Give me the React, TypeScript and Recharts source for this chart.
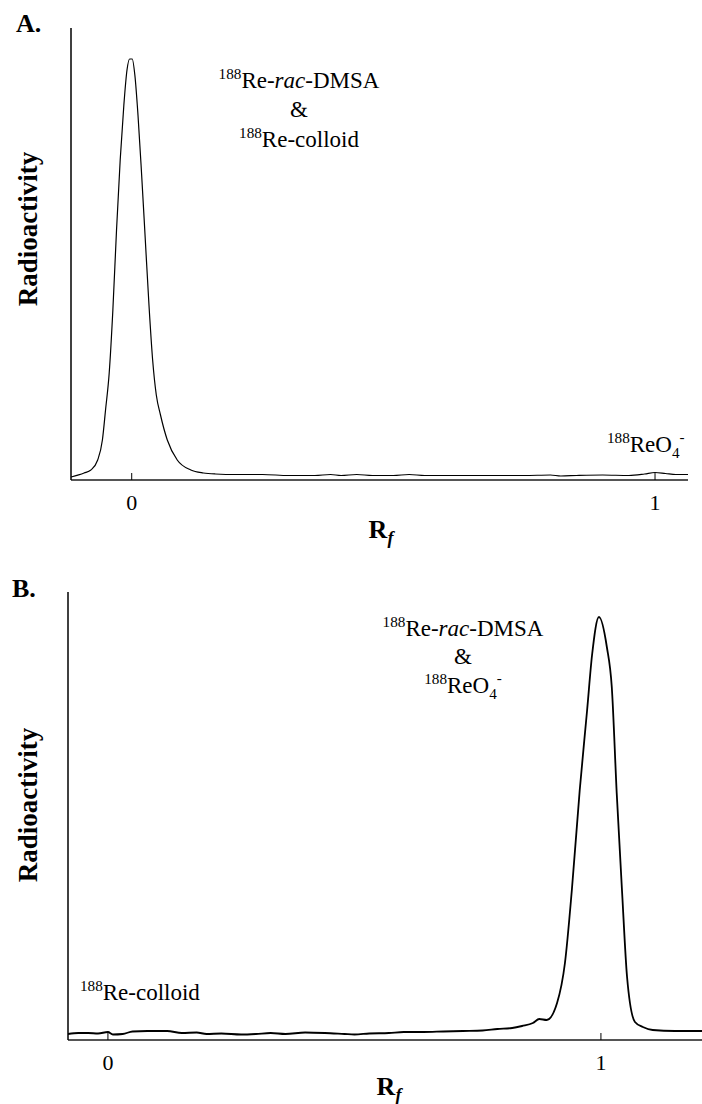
import React from 'react'
import { LineChart, Line, XAxis, YAxis } from 'recharts'

// panel A: TLC scan, peak at origin
const rfA = [
  -0.116, -0.091, -0.078, -0.065, -0.056, -0.05, -0.043, -0.036, -0.029, -0.022, -0.015, -0.009,
  -0.004, 0.001, 0.006, 0.012, 0.019, 0.026, 0.033, 0.04, 0.047, 0.055, 0.068, 0.087, 0.113,
  0.137, 0.16, 0.2, 0.25, 0.3, 0.35, 0.38, 0.4, 0.43, 0.46, 0.5, 0.53, 0.56, 0.6, 0.7, 0.75, 0.8,
  0.82, 0.85, 0.9, 0.95, 0.98, 1.0, 1.02, 1.04, 1.063,
]
const activityA = [
  3, 7, 10, 20, 40, 70, 107, 170, 250, 320, 375, 410, 421, 421, 405, 365, 305, 240, 175, 120, 85,
  65, 40, 20, 10, 7, 6, 5.5, 5.5, 4.5, 4.5, 5.5, 4.5, 5.5, 4.5, 4.5, 5.5, 4.5, 4.5, 4.5, 4.5, 5,
  4, 4.5, 5, 4.5, 6, 7.5, 6.5, 5.5, 5.5,
]

// panel B: peak at solvent front
const rfB = [
  -0.081, -0.06, -0.04, -0.02, 0.0, 0.01, 0.03, 0.05, 0.08, 0.12, 0.15, 0.18, 0.2, 0.23, 0.27,
  0.3, 0.33, 0.36, 0.4, 0.44, 0.48, 0.5, 0.53, 0.57, 0.6, 0.64, 0.68, 0.72, 0.76, 0.79, 0.82,
  0.84, 0.862, 0.875, 0.89, 0.911, 0.927, 0.941, 0.957, 0.972, 0.982, 0.996, 1.012, 1.022, 1.032,
  1.043, 1.053, 1.069, 1.085, 1.105, 1.15, 1.205,
]
const activityB = [
  6, 7, 7, 6.5, 8, 5.5, 6, 8.5, 9, 9, 7, 7.5, 6, 6.5, 5.5, 6, 7, 6, 7.5, 7, 6, 5.5, 6.5, 7, 8, 8,
  8.5, 9, 9.5, 11, 12, 14, 17, 21, 20, 37, 77, 150, 250, 330, 385, 423, 393, 353, 247, 147, 63, 18,
  13, 10, 9, 9,
]

const rfTicks = [0, 1]

const dataA = rfA.map((rf, i) => ({ rf, value: activityA[i] }))
const dataB = rfB.map((rf, i) => ({ rf, value: activityB[i] }))

const serif = '"Liberation Serif", "Times New Roman", serif'

const RfTick = (props: any) => {
  const { x, y, payload } = props
  return (
    <g>
      <line x1={x} x2={x} y1={y} y2={y - 7} stroke="#000" strokeWidth={1} />
      <text x={x} y={y + 30} textAnchor="middle" fontFamily={serif} fontSize={22} fill="#000">
        {payload.value}
      </text>
    </g>
  )
}

function Sup({ x, y, anchor = 'middle', parts, size = 23 }: any) {
  // parts: [text, style] where style = 'sup' | 'sub' | 'it' | ''
  let shift = 0
  return (
    <text x={x} y={y} textAnchor={anchor} fontFamily={serif} fontSize={size} fill="#000">
      {parts.map(([t, s]: [string, string], i: number) => {
        let target = 0
        if (s === 'sup') target = -9
        if (s === 'sub') target = 6
        if (s === 'supm') target = -10
        const dy = target - shift
        shift = target
        const small = s === 'sup' || s === 'sub' || s === 'supm'
        return (
          <tspan
            key={i}
            dy={dy}
            fontSize={small ? size * 0.66 : size}
            fontStyle={s === 'it' ? 'italic' : 'normal'}
          >
            {t}
          </tspan>
        )
      })}
    </text>
  )
}

function Panel({ data, domain, yMax, margin, width, height, strokeWidth }: any) {
  return (
    <LineChart width={width} height={height} data={data} margin={margin}>
      <XAxis
        dataKey="rf"
        type="number"
        domain={domain}
        ticks={rfTicks}
        allowDataOverflow
        height={30}
        tickSize={0}
        tickMargin={0}
        tickLine={false}
        tick={<RfTick />}
        axisLine={{ stroke: '#555', strokeWidth: 2 }}
      />
      <YAxis
        type="number"
        domain={[0, yMax]}
        width={1}
        tick={false}
        tickLine={false}
        axisLine={{ stroke: '#000', strokeWidth: 1.5 }}
      />
      <Line
        type="monotone"
        dataKey="value"
        stroke="#000"
        strokeWidth={strokeWidth}
        dot={false}
        isAnimationActive={false}
      />
    </LineChart>
  )
}

export default function App() {
  return (
    <div style={{ position: 'absolute', left: 0, top: 0, width: 702, height: 1104, background: '#fff' }}>
      <div style={{ position: 'absolute', left: 0, top: 0 }}>
        <Panel
          data={dataA}
          domain={[-0.116, 1.063]}
          yMax={452}
          width={702}
          height={560}
          margin={{ top: 28, right: 14, bottom: 50, left: 70 }}
          strokeWidth={1.2}
        />
      </div>
      <div style={{ position: 'absolute', left: 0, top: 560 }}>
        <Panel
          data={dataB}
          domain={[-0.081, 1.205]}
          yMax={448}
          width={702}
          height={544}
          margin={{ top: 32, right: 0, bottom: 34, left: 67 }}
          strokeWidth={1.8}
        />
      </div>
      <svg
        width={702}
        height={1104}
        style={{ position: 'absolute', left: 0, top: 0, pointerEvents: 'none' }}
      >
        {/* panel A labels */}
        <text x={16} y={32} fontFamily={serif} fontSize={26} fontWeight="bold">A.</text>
        <text
          transform="translate(37,229) rotate(-90)"
          textAnchor="middle"
          fontFamily={serif}
          fontSize={27}
          fontWeight="bold"
        >
          Radioactivity
        </text>
        <Sup x={299} y={88} parts={[['188', 'sup'], ['Re-', ''], ['rac', 'it'], ['-DMSA', '']]} />
        <Sup x={299} y={117} parts={[['&', '']]} />
        <Sup x={299} y={147} parts={[['188', 'sup'], ['Re-colloid', '']]} />
        <Sup
          x={607}
          y={452}
          anchor="start"
          parts={[['188', 'sup'], ['ReO', ''], ['4', 'sub'], ['-', 'supm']]}
        />
        <text x={381} y={538} textAnchor="middle" fontFamily={serif} fontSize={26} fontWeight="bold">
          R
          <tspan dy={6} fontSize={18} fontStyle="italic">f</tspan>
        </text>

        {/* panel B labels */}
        <text x={12} y={597} fontFamily={serif} fontSize={26} fontWeight="bold">B.</text>
        <text
          transform="translate(37,805) rotate(-90)"
          textAnchor="middle"
          fontFamily={serif}
          fontSize={27}
          fontWeight="bold"
        >
          Radioactivity
        </text>
        <Sup x={463} y={636} parts={[['188', 'sup'], ['Re-', ''], ['rac', 'it'], ['-DMSA', '']]} />
        <Sup x={463} y={664} parts={[['&', '']]} />
        <Sup
          x={463}
          y={693}
          parts={[['188', 'sup'], ['ReO', ''], ['4', 'sub'], ['-', 'supm']]}
        />
        <Sup x={80} y={1000} anchor="start" parts={[['188', 'sup'], ['Re-colloid', '']]} />
        <text x={389} y={1095} textAnchor="middle" fontFamily={serif} fontSize={26} fontWeight="bold">
          R
          <tspan dy={6} fontSize={18} fontStyle="italic">f</tspan>
        </text>
      </svg>
    </div>
  )
}
